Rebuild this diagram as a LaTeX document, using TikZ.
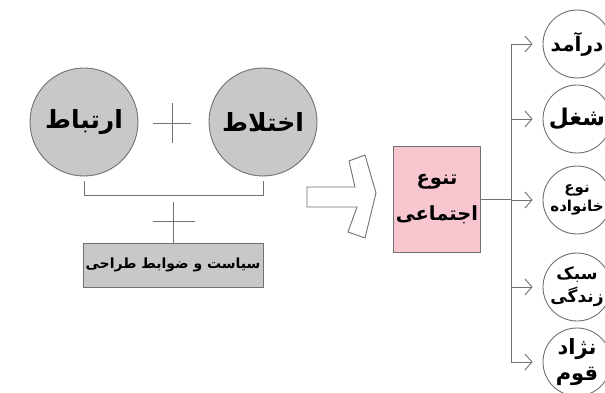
\documentclass[tikz,border=0pt]{standalone}
\usepackage{fontspec}
\newfontfamily\farsi[Script=Arabic]{DejaVu Sans}
\TeXXeTstate=1
\newcommand{\rtltext}[1]{\beginR#1\endR}
\usetikzlibrary{arrows.meta}
\definecolor{circlegray}{HTML}{C8C8C8}
\definecolor{boxpink}{HTML}{F7C6CE}
\definecolor{linegray}{HTML}{707070}
\tikzset{%
  >={Straight Barb[length=7pt,width=16pt]},
  % Specifications for style of nodes:
          base/.style = {draw=linegray, line width=0.9pt, text centered,
                         font=\farsi\bfseries},
     bigcircle/.style = {base, circle, fill=circlegray, minimum size=108pt,
                         font=\farsi\bfseries\fontsize{25}{30}\selectfont},
   smallcircle/.style = {base, circle, fill=white, minimum size=68pt,
                         inner sep=0pt, align=center},
       graybox/.style = {base, rectangle, fill=circlegray, minimum width=180pt,
                         minimum height=44pt, inner sep=1pt,
                         font=\farsi\bfseries\fontsize{14}{18}\selectfont},
       pinkbox/.style = {base, rectangle, fill=boxpink, minimum width=87pt,
                         minimum height=106pt, align=center, inner sep=1pt,
                         font=\farsi\bfseries\fontsize{19.5}{36}\selectfont},
          link/.style = {draw=linegray, line width=0.9pt},
}
\begin{document}
\begin{tikzpicture}[x=1pt, y=-1pt]
\useasboundingbox (0,0) rectangle (605,393);
\clip (0,0) rectangle (605,393);

\node (ertebat)   [bigcircle] at (84,122)  {\rtltext{ارتباط}};
\node (ekhtelat)  [bigcircle] at (263,122) {\rtltext{اختلاط}};
\node (policy)    [graybox]   at (173,265) {\rtltext{سیاست و ضوابط طراحی}};
\node (tanavo)    [pinkbox]   at (437,199) {\rtltext{تنوع}\\\rtltext{اجتماعی}};

\node (daramad)   [smallcircle, font=\farsi\bfseries\fontsize{20}{22}\selectfont]
                  at (577,44)  {\rtltext{درآمد}};
\node (shoghl)    [smallcircle, font=\farsi\bfseries\fontsize{23}{24}\selectfont]
                  at (577,119) {\rtltext{شغل}};
\node (khanevade) [smallcircle, font=\farsi\bfseries\fontsize{15}{19}\selectfont]
                  at (577,200) {\rtltext{نوع}\\\rtltext{خانواده}};
\node (sabk)      [smallcircle, font=\farsi\bfseries\fontsize{17}{23}\selectfont]
                  at (577,287) {\rtltext{سبک}\\\rtltext{زندگی}};
\node (nezhad)    [smallcircle, font=\farsi\bfseries\fontsize{21}{26}\selectfont]
                  at (577,362) {\rtltext{نژاد}\\\rtltext{قوم}};

% plus signs
\coordinate (plusA) at (172,123);
\draw[link] ([xshift=-19pt]plusA) -- ([xshift=19pt]plusA);
\draw[link] ([yshift=20pt]plusA) -- ([yshift=-20pt]plusA);

\draw[link] ([yshift=-5pt]ertebat.south) -- ++(0,14) -| ([yshift=-5pt]ekhtelat.south);
\draw[link] (policy.north) -- ++(0,-41);
\draw[link] ([xshift=-20pt,yshift=21pt]policy.north) -- ([xshift=22pt,yshift=21pt]policy.north);

% open arrow
\draw[link, fill=white] (307,187) -- (355,187) -- (349,161) -- (365,155)
  -- (376,193) -- (365,238) -- (348,232) -- (357,207) -- (307,207) -- cycle;

% branches
\coordinate (trunkTop) at (511,44);
\coordinate (trunkBot) at (511,362);
\draw[link] (trunkTop) -- (trunkBot);
\draw[link] (tanavo.east) -- (tanavo.east -| trunkTop);
\foreach \c in {daramad,shoghl,khanevade,sabk,nezhad}
  \draw[link, ->] (\c.west -| trunkTop) -- ([xshift=-10pt]\c.west);
\end{tikzpicture}
\end{document}
